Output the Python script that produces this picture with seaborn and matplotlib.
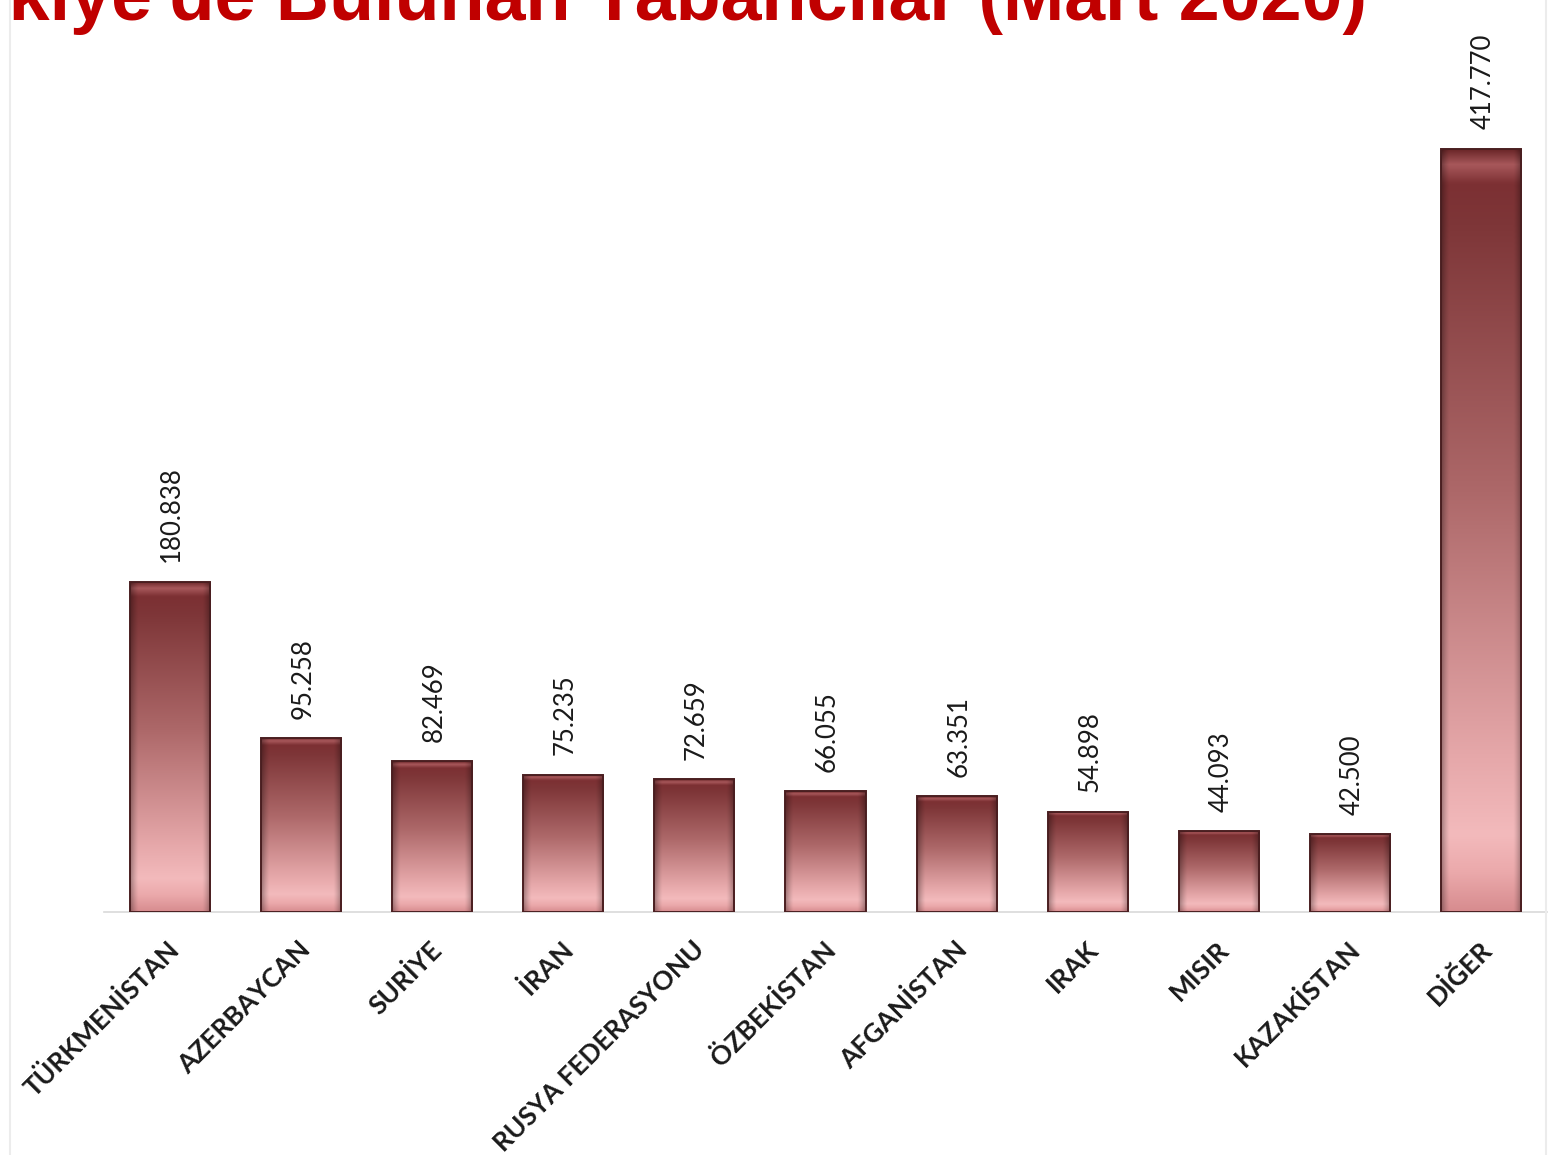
import numpy as np
import pandas as pd
import matplotlib
matplotlib.use("Agg")
import matplotlib.pyplot as plt
import matplotlib.transforms as mtransforms
from matplotlib.colors import LinearSegmentedColormap
from matplotlib.lines import Line2D
import seaborn as sns

# ---- data ----
countries = ["TÜRKMENİSTAN", "AZERBAYCAN", "SURİYE", "İRAN", "RUSYA FEDERASYONU",
             "ÖZBEKİSTAN", "AFGANİSTAN", "IRAK", "MISIR", "KAZAKİSTAN", "DİĞER"]
counts = [180838, 95258, 82469, 75235, 72659, 66055, 63351, 54898, 44093, 42500, 417770]
title = "Türkiye'de Bulunan Yabancılar (Mart 2020)"

df = pd.DataFrame({"country": countries, "count": counts})

sns.set_theme(style="white")
plt.rcParams["font.family"] = ["Lato", "DejaVu Sans"]

fig = plt.figure(figsize=(15.6, 11.55), dpi=100)
fig.patch.set_facecolor("white")
ax = fig.add_axes([104 / 1560, 1 - 912 / 1155, (1547 - 104) / 1560, 912 / 1155])

sns.barplot(data=df, x="country", y="count", ax=ax, width=0.61,
            color="#A05A5C", edgecolor="#4A1E20", linewidth=1.4, zorder=2)

ax.set_xlim(-0.5, len(countries) - 0.5)
ax.set_ylim(0, 499200)

# gradient fill (top dark maroon -> light pink near bottom)
vcmap = LinearSegmentedColormap.from_list("bar", [
    (0.00, "#6A2628"), (0.02, "#A8585B"), (0.045, "#7C3033"), (0.10, "#7E3638"),
    (0.45, "#AD6869"), (0.80, "#E6A8AA"), (0.90, "#F3BABC"), (0.95, "#EBA9AB"),
    (1.00, "#D78C8F")])
ny, nx = 256, 64
yy = np.linspace(0, 1, ny)[:, None]
xx = np.linspace(-1, 1, nx)[None, :]
base = vcmap(np.repeat(yy, nx, axis=1))[..., :3]
shade = 1 - 0.32 * np.clip((np.abs(xx) - 0.80) / 0.20, 0, 1) ** 1.3
img = base * shade[..., None]

for p in ax.patches:
    x0, w, h = p.get_x(), p.get_width(), p.get_height()
    im = ax.imshow(img, extent=[x0, x0 + w, 0, h], aspect="auto",
                   origin="upper", zorder=2.5, interpolation="bilinear")
    im.set_clip_path(p)
    p.set_zorder(3)
    p.set_facecolor("none")

# value labels
for i, v in enumerate(counts):
    ax.annotate(f"{v:,}".replace(",", "."), (i, v), xytext=(1.5, 14),
                textcoords="offset points", rotation=90, ha="center", va="bottom",
                fontsize=18.5, color="#1A1A1A", family=["Lato", "DejaVu Sans"])

# axes styling
for s in ["top", "right", "left"]:
    ax.spines[s].set_visible(False)
ax.spines["bottom"].set_color("#D9D9D9")
ax.spines["bottom"].set_linewidth(1.2)
ax.set_yticks([])
ax.set_xlabel("")
ax.set_ylabel("")
ax.tick_params(axis="x", length=0, pad=24)
ax.set_xticks(range(len(countries)))
ax.set_xticklabels(countries, rotation=45, ha="right", va="center",
                   rotation_mode="anchor", fontsize=19, fontweight="bold",
                   color="#1A1A1A")
offset = mtransforms.ScaledTranslation(6 / 100, 0, fig.dpi_scale_trans)
for lab in ax.get_xticklabels():
    lab.set_transform(lab.get_transform() + offset)

# title (cropped by the top of the picture, as in the reference)
fig.text(1367 / 1560, 1 - 20 / 1155, title, ha="right", va="baseline",
         fontsize=53, fontweight="bold", color="#C00000",
         family=["Liberation Sans", "DejaVu Sans"], zorder=5)

# faint slide frame lines
fig.add_artist(Line2D([10 / 1560, 10 / 1560], [0, 1], color="#ECECEC", lw=1.5))
fig.add_artist(Line2D([1546 / 1560, 1546 / 1560], [0, 1], color="#ECECEC", lw=1.5))

fig.savefig("out.png", dpi=100, facecolor="white")
